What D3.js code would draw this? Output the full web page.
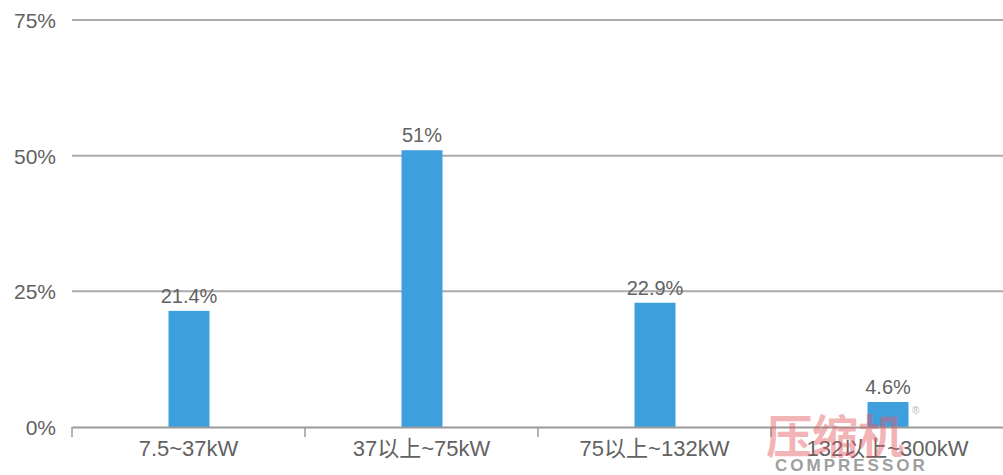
<!DOCTYPE html>
<html>
<head>
<meta charset="utf-8">
<script src="https://cdn.jsdelivr.net/npm/d3@7"></script>
<style>
  html, body { margin: 0; padding: 0; background: #fff; }
  svg { display: block; font-family: "Liberation Sans", "Noto Sans CJK SC", sans-serif; }
</style>
</head>
<body>
<svg id="chart" width="1003" height="475"></svg>
<script>
// Share of units by power range (%)
const categories = ["7.5~37kW", "37以上~75kW", "75以上~132kW", "132以上~300kW"];
const shares = [21.4, 51, 22.9, 4.6];
const shareLabels = ["21.4%", "51%", "22.9%", "4.6%"];
const yTicks = [0, 25, 50, 75];

const svg = d3.select("#chart");
const plotLeft = 72, plotRight = 1004, plotTop = 20, plotBottom = 427;
const textColor = "#626262";

const x = d3.scaleBand().domain(categories).range([plotLeft, plotRight]).paddingInner(0).paddingOuter(0);
const y = d3.scaleLinear().domain([0, 75]).range([plotBottom, plotTop]);
const barW = 41;

// Horizontal gridlines
svg.append("g")
  .selectAll("line")
  .data(yTicks.filter(d => d > 0))
  .join("line")
  .attr("x1", plotLeft).attr("x2", 1003)
  .attr("y1", d => y(d)).attr("y2", d => y(d))
  .attr("stroke", "#ababab").attr("stroke-width", 2);

// Y tick labels
svg.append("g")
  .selectAll("text")
  .data(yTicks)
  .join("text")
  .attr("x", 56).attr("y", d => y(d) + 8)
  .attr("text-anchor", "end")
  .attr("font-size", 21).attr("fill", textColor)
  .text(d => d + "%");

// Bars
svg.append("g")
  .selectAll("rect")
  .data(shares)
  .join("rect")
  .attr("x", (d, i) => x(categories[i]) + x.bandwidth() / 2 - barW / 2 + 0.5)
  .attr("y", d => y(d))
  .attr("width", barW)
  .attr("height", d => y(0) - y(d))
  .attr("fill", "#3d9fdd");

// Value labels
svg.append("g")
  .selectAll("text")
  .data(shares)
  .join("text")
  .attr("x", (d, i) => x(categories[i]) + x.bandwidth() / 2 + 0.5)
  .attr("y", d => y(d) - 8)
  .attr("text-anchor", "middle")
  .attr("font-size", 20).attr("fill", textColor)
  .text((d, i) => shareLabels[i]);

// X axis
const xAxis = svg.append("g").attr("transform", `translate(0,${plotBottom})`)
  .call(d3.axisBottom(x).tickSize(0).tickPadding(13));
xAxis.select(".domain").attr("stroke", "#9a9a9a").attr("stroke-width", 2);
xAxis.selectAll("text")
  .attr("font-size", 22).attr("fill", textColor)
  .attr("font-family", "\"Liberation Sans\", \"Noto Sans CJK SC\", sans-serif");

// Band boundary ticks
const bounds = categories.map(c => x(c));
svg.append("g")
  .selectAll("line")
  .data(bounds)
  .join("line")
  .attr("x1", d => d).attr("x2", d => d)
  .attr("y1", plotBottom).attr("y2", plotBottom + 10)
  .attr("stroke", "#9a9a9a").attr("stroke-width", 1.5);

// Publisher mark
const mark = svg.append("g");
mark.append("text")
  .attr("x", 766).attr("y", 453)
  .attr("font-family", "\"Noto Sans CJK SC\", sans-serif").attr("font-weight", 700)
  .attr("font-size", 46).attr("fill", "#e65a64").attr("opacity", 0.45)
  .text("压缩机");
mark.append("text")
  .attr("x", 912).attr("y", 414)
  .attr("font-size", 10).attr("fill", "#999").attr("opacity", 0.7)
  .text("®");
mark.append("text")
  .attr("x", 775).attr("y", 471)
  .attr("font-family", "\"Liberation Sans\", sans-serif").attr("font-weight", "bold")
  .attr("font-size", 17).attr("letter-spacing", 3).attr("fill", "#888").attr("opacity", 0.8)
  .text("COMPRESSOR");
</script>
</body>
</html>
